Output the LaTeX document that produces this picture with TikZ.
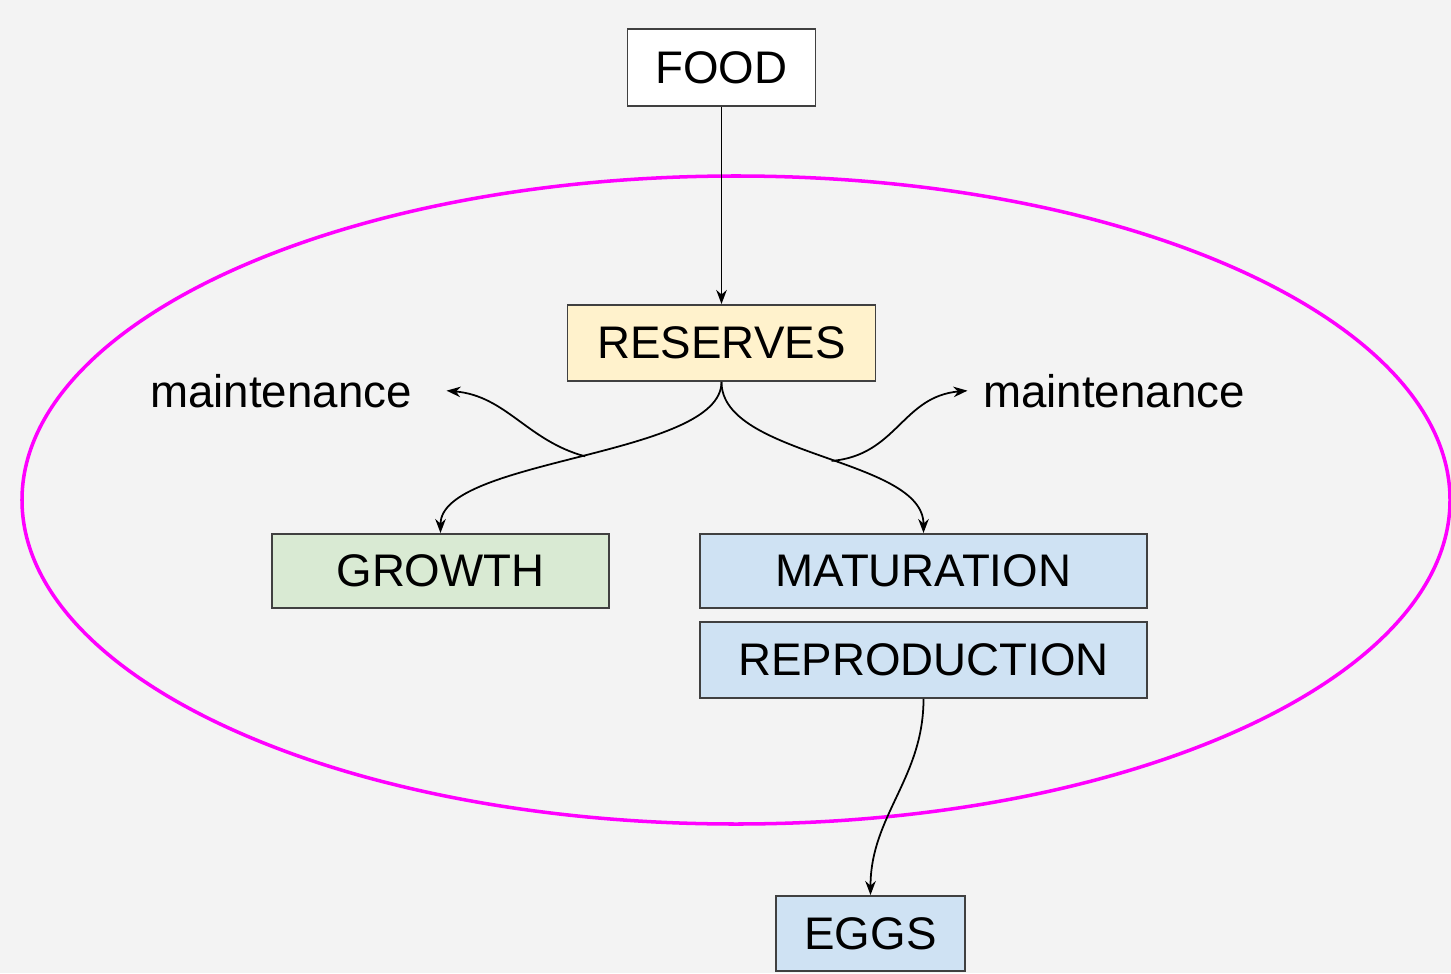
\documentclass[tikz,border=0pt]{standalone}
\usepackage{fontspec}
\setmainfont{Liberation Sans}
\usepackage{xcolor}
\usetikzlibrary{arrows.meta, positioning}
\definecolor{bggray}{HTML}{F3F3F3}
\definecolor{boxline}{HTML}{404040}
\definecolor{reservefill}{HTML}{FFF2CC}
\definecolor{growthfill}{HTML}{D9EAD3}
\definecolor{bluefill}{HTML}{CFE2F3}
\definecolor{ringmagenta}{RGB}{255,0,255}

\begin{document}
\begin{tikzpicture}[>={Stealth[length=8pt, width=6pt]}, thick,
    stagebox/.style={draw=boxline, line width=1.1pt, minimum height=1.5cm, inner sep=0pt, font=\fontsize{26}{31}\selectfont},
    maintlabel/.style={anchor=base, inner ysep=0pt, font=\fontsize{26}{31}\selectfont},
    flow/.style={->, line width=1pt, black}]
    % background and frame
    \fill[bggray] (0,0) rectangle (29.02,-19.46);
    \useasboundingbox (0,0) rectangle (29.02,-19.46);

    % organism
    \draw[ringmagenta, line width=2pt] (14.72,-10) ellipse [x radius=14.28cm, y radius=6.48cm];

    % boxes
    \node[stagebox, fill=white, minimum width=3.76cm, minimum height=1.54cm] (food) at (14.43,-1.35) {FOOD};
    \node[stagebox, fill=reservefill, minimum width=6.16cm, minimum height=1.52cm] (reserves) at (14.43,-6.86) {RESERVES};
    \node[stagebox, fill=growthfill, minimum width=6.74cm, minimum height=1.48cm] (growth) at (8.81,-11.42) {GROWTH};
    \node[stagebox, fill=bluefill, minimum width=8.94cm, minimum height=1.48cm] (maturation) at (18.47,-11.42) {MATURATION};
    \node[stagebox, fill=bluefill, minimum width=8.94cm, minimum height=1.52cm] (reproduction) at (18.47,-13.20) {REPRODUCTION};
    \node[stagebox, fill=bluefill, minimum width=3.78cm] (eggs) at (17.41,-18.67) {EGGS};

    \node[maintlabel, inner xsep=0.68cm] (maintL) at (5.62,-8.14) {maintenance};
    \node[maintlabel, inner xsep=0.3cm] (maintR) at (22.28,-8.14) {maintenance};

    % flows
    \draw[flow] (food.south) -- (reserves.north);
    \draw[flow] (reserves.south) .. controls +(0,-1.5) and +(0,1.5) .. (growth.north) coordinate[pos=0.49] (splitL);
    \draw[flow] (reserves.south) .. controls +(0,-1.5) and +(0,1.5) .. (maturation.north) coordinate[pos=0.53] (splitR);
    \draw[flow] (splitL) to[out=165, in=-5] (maintL.east);
    \draw[flow] (splitR) to[out=5, in=185, looseness=1.1] (maintR.west);
    \draw[flow] (reproduction.south) to[out=-90, in=90] (eggs.north);
\end{tikzpicture}
\end{document}
